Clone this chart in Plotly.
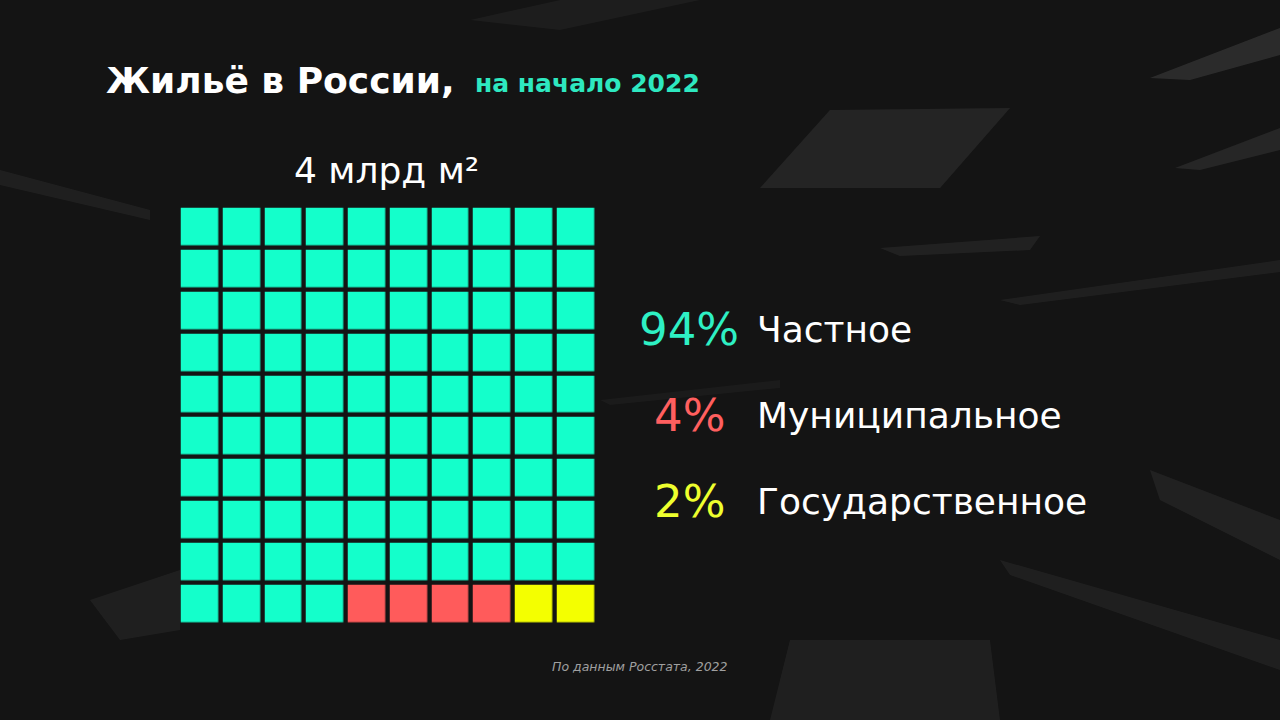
import plotly.graph_objects as go

# ---- data ----
categories = ["Частное", "Муниципальное", "Государственное"]
shares = [94, 4, 2]
pct_labels = ["94%", "4%", "2%"]
colors = ["#14FFCB", "#FF5B5B", "#F4FF00"]
pct_colors = ["#2EF0C4", "#FF5F5F", "#EEFF2E"]
grid_rows = 10
grid_cols = 10
title_main = "Жильё в России,"
title_sub = "на начало 2022"
total_label = "4 млрд м²"
source_note = "По данным Росстата, 2022"

W, H = 1280, 720
BG = "#141414"

# build waffle matrix (row-major fill from top-left)
cells = []
for ci, n in enumerate(shares):
    cells += [ci] * n
z = [cells[r * grid_cols:(r + 1) * grid_cols] for r in range(grid_rows)]

k = len(colors)
cscale = []
for i, c in enumerate(colors):
    cscale.append([i / k, c])
    cscale.append([(i + 1) / k, c])

fig = go.Figure()
fig.add_trace(go.Heatmap(
    z=z,
    x=list(range(grid_cols)),
    y=list(range(grid_rows)),
    colorscale=cscale,
    zmin=-0.5, zmax=k - 0.5,
    showscale=False,
    xgap=4.5, ygap=4.5,
    hoverinfo="skip",
))

# pixel geometry of the grid
gx0, gx1 = 178.75, 596.5
gy0, gy1 = 205.75, 624.5

fig.update_xaxes(domain=[gx0 / W, gx1 / W], range=[-0.5, grid_cols - 0.5],
                 visible=False, fixedrange=True)
fig.update_yaxes(domain=[1 - gy1 / H, 1 - gy0 / H], range=[grid_rows - 0.5, -0.5],
                 visible=False, fixedrange=True)

# decorative background streaks
streaks = [
    ("M 1150 78 L 1280 28 L 1280 55 L 1190 80 Z", 0.10),
    ("M 760 188 L 830 110 L 1010 108 L 940 188 Z", 0.07),
    ("M 880 248 L 1040 236 L 1030 250 L 900 256 Z", 0.06),
    ("M 1175 168 L 1280 128 L 1280 150 L 1200 170 Z", 0.08),
    ("M 770 720 L 790 640 L 990 640 L 1000 720 Z", 0.05),
    ("M 90 600 L 180 570 L 180 630 L 120 640 Z", 0.05),
    ("M 1150 470 L 1280 520 L 1280 560 L 1160 500 Z", 0.06),
    ("M 0 170 L 150 210 L 150 220 L 0 185 Z", 0.05),
    ("M 470 20 L 560 0 L 700 0 L 560 30 Z", 0.04),
    ("M 1000 560 L 1280 640 L 1280 670 L 1010 575 Z", 0.05),
    ("M 600 400 L 780 380 L 780 388 L 610 405 Z", 0.03),
    ("M 1000 300 L 1280 260 L 1280 272 L 1020 305 Z", 0.05),
]

def px_path(p):
    toks = p.split()
    out = []
    i = 0
    while i < len(toks):
        t = toks[i]
        if t in ("M", "L"):
            x = float(toks[i + 1]) / W
            y = 1 - float(toks[i + 2]) / H
            out.append(f"{t} {x:.4f} {y:.4f}")
            i += 3
        else:
            out.append(t)
            i += 1
    return " ".join(out)

shapes = []
for p, a in streaks:
    shapes.append(dict(type="path", path=px_path(p), xref="paper", yref="paper",
                       fillcolor=f"rgba(255,255,255,{a})", line=dict(width=0),
                       layer="below"))

annotations = []
def txt(text, x, y, size, color, family, xanchor="left", yanchor="middle"):
    annotations.append(dict(text=text, x=x / W, y=1 - y / H, xref="paper", yref="paper",
                            xanchor=xanchor, yanchor=yanchor, showarrow=False,
                            font=dict(size=size, color=color, family=family)))

txt(f"<b>{title_main}</b>", 104, 80, 36, "#FFFFFF", "DejaVu Sans")
txt(f"<b>{title_sub}</b>", 473, 83, 25, "#2EE8C0", "DejaVu Sans")
txt(total_label, 386, 170, 36, "#FFFFFF", "DejaVu Sans", xanchor="center")

rows_y = [330, 416, 501]
for i in range(len(categories)):
    txt(pct_labels[i], 689, rows_y[i], 45, pct_colors[i], "DejaVu Sans", xanchor="center")
    txt(categories[i], 755, rows_y[i], 36, "#FFFFFF", "DejaVu Sans")

txt(f"<i>{source_note}</i>", 640, 666, 12.5, "#A0A0A0", "DejaVu Sans", xanchor="center")

fig.update_layout(
    width=W, height=H,
    margin=dict(l=0, r=0, t=0, b=0),
    paper_bgcolor=BG, plot_bgcolor="rgba(0,0,0,0)",
    shapes=shapes, annotations=annotations,
    showlegend=False,
)

fig.write_html(
    "out.html",
    config={"displayModeBar": False},
    post_script="document.body.style.margin='0';document.body.style.overflow='hidden';",
)
